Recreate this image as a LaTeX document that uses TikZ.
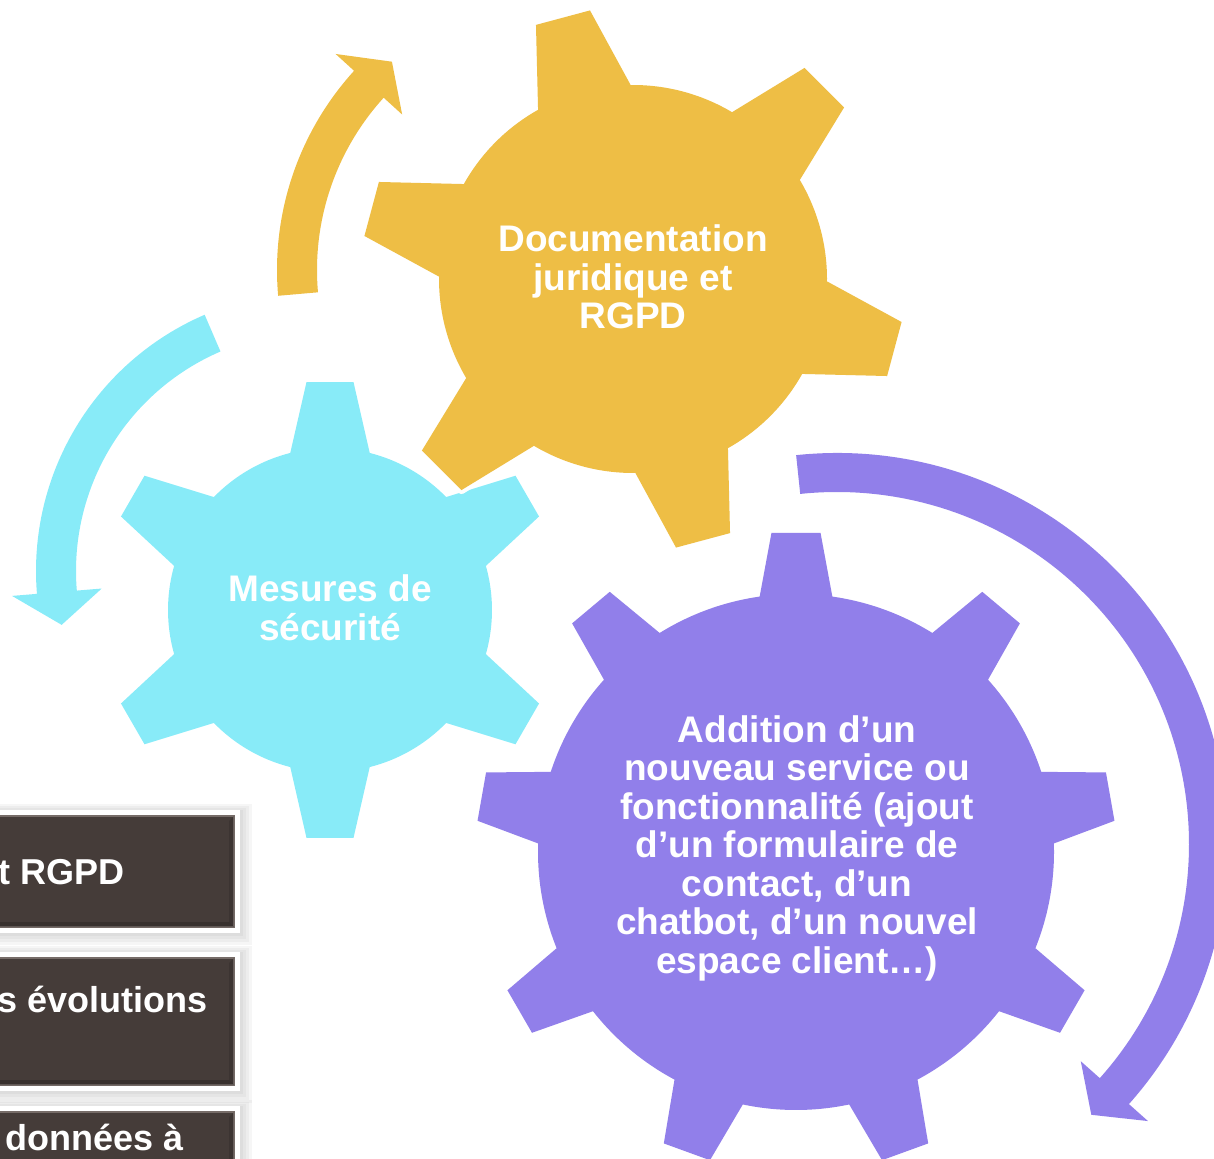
\documentclass[tikz,border=0pt]{standalone}
\usepackage{fontspec}
\setmainfont{Liberation Sans}
\definecolor{gearyellow}{RGB}{238,190,69}
\definecolor{gearcyan}{RGB}{136,235,248}
\definecolor{gearpurple}{RGB}{145,127,234}
\definecolor{boxdark}{RGB}{69,60,57}
\definecolor{boxedge}{RGB}{118,108,104}
\tikzset{gearlabel/.style={text=white, font=\fontsize{18.5}{19.25}\selectfont\bfseries, align=center, inner sep=0pt},
  boxlabel/.style={text=white, font=\fontsize{18}{20}\selectfont\bfseries, inner sep=0pt, anchor=base east},
  halo/.style={fill=white, draw=white, line width=4pt, line join=round}}
% gear: teeth, first tooth angle, body radius, tip radius, half angle at base, half angle at tip, style
\newcommand{\gear}[7]{%
  \path[#7] ({#2-#5}:#3) \foreach \k in {1,...,#1}{
    -- ({#2+(\k-1)*360/#1-#6}:#4) -- ({#2+(\k-1)*360/#1+#6}:#4)
    -- ({#2+(\k-1)*360/#1+#5}:#3)
    arc[start angle={#2+(\k-1)*360/#1+#5}, end angle={#2+\k*360/#1-#5}, radius=#3]} -- cycle;}
% ring arrow: inner radius, outer radius, tail angle, head angle, tip angle, colour
\newcommand{\ringarrow}[6]{%
  \fill[#6] (#3:#2) arc[start angle=#3, end angle=#4, radius=#2]
    -- (#4:{(#1+#2)/2+45}) -- (#5:{(#1+#2)/2}) -- (#4:{(#1+#2)/2-45})
    -- (#4:#1) arc[start angle=#4, end angle=#3, radius=#1] -- cycle;}

\begin{document}
\begin{tikzpicture}[x=0.5pt,y=-0.5pt]
%%
\useasboundingbox (0,0) rectangle (1214,1159);
\clip (0,0) rectangle (1214,1159);
% arrows
\begin{scope}[shift={(573,270)}]
  \ringarrow{256}{296}{-185}{-137.7}{-131}{gearyellow}
\end{scope}
\begin{scope}[shift={(315,571)}]
  \ringarrow{239}{279}{-113.3}{-184.7}{-192}{gearcyan}
\end{scope}
\begin{scope}[shift={(837,844)}]
  \ringarrow{352}{391}{-96}{41.7}{46.8}{gearpurple}
\end{scope}
% gears
\begin{scope}[shift={(330,610)}]
  \gear{6}{30}{162}{229}{14.2}{5.9}{fill=gearcyan}
\end{scope}
\begin{scope}[shift={(633,279)}]
  \gear{6}{15}{194}{272}{14.3}{5.9}{halo}
  \gear{6}{15}{194}{272}{14.3}{5.9}{fill=gearyellow}
\end{scope}
\begin{scope}[shift={(796,852)}]
  \gear{9}{30}{258}{320}{8.1}{4.4}{halo}
  \gear{9}{30}{258}{320}{8.1}{4.4}{fill=gearpurple}
\end{scope}
\node (docu) at (633,277) [gearlabel] {Documentation\\juridique et\\RGPD};
\node (secu) at (330,608) [gearlabel] {Mesures de\\sécurité};
\node (addi) at (797,848) [gearlabel] {Addition d’un\\nouveau service ou\\fonctionnalité (ajout\\d’un formulaire de\\contact, d’un\\chatbot, d’un nouvel\\espace client…)};
% boxes
\foreach \top/\bot in {810/933, 952/1091, 1106/1200}{
  \foreach \i in {1,...,4}
    \fill[black, opacity=0.035] (-30,\top-\i*2+2) rectangle (240+\i*3,\bot+\i*3);
  \fill[white] (-30,\top) rectangle (240,\bot);
  \fill[boxdark, draw=boxedge, line width=0.6pt] (-30,\top+6) rectangle (234,\bot-6);
  \fill[black, opacity=0.18] (-30,\bot-6) -- (234,\bot-6) -- (229,\bot-11) -- (-30,\bot-11) -- cycle;
  \fill[black, opacity=0.12] (234,\top+6) -- (234,\bot-6) -- (229,\bot-11) -- (229,\top+11) -- cycle;
}
\node (rgpd) at (125,884) [boxlabel] {t RGPD};
\node (evol) at (208,1012) [boxlabel] {s évolutions};
\node (donn) at (184,1150) [boxlabel] {données à};
%
\end{tikzpicture}
\end{document}
